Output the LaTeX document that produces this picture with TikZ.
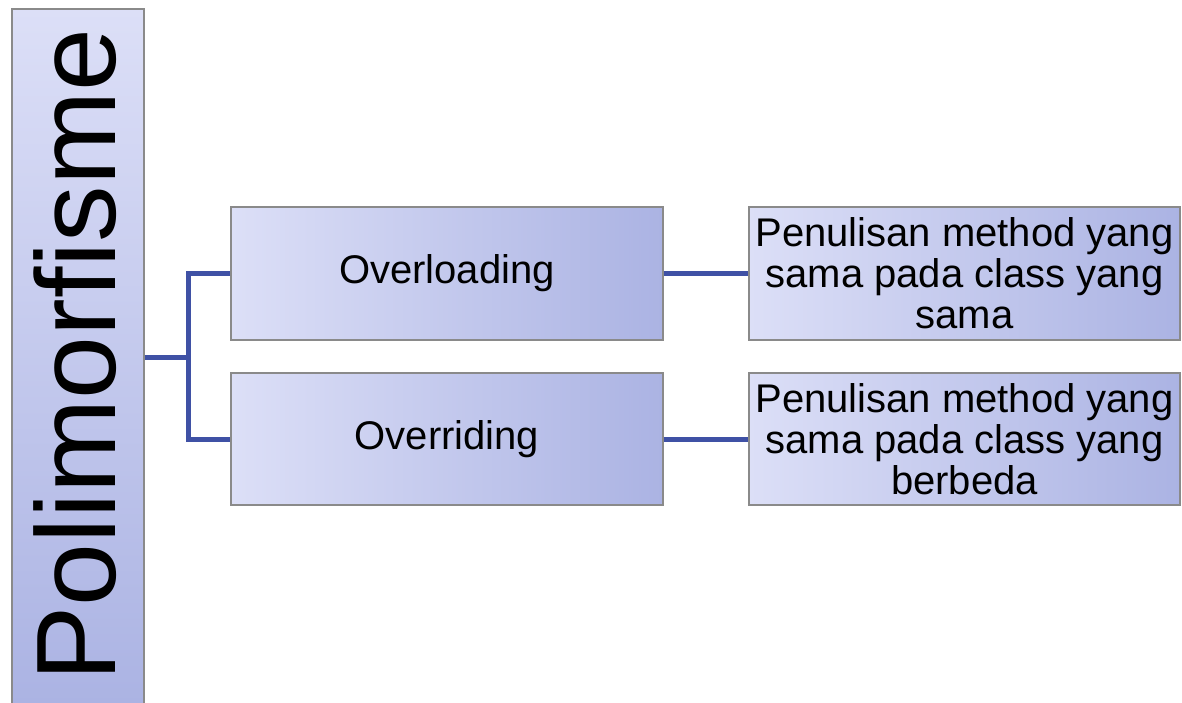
\documentclass[tikz,border=0pt]{standalone}
\usepackage{fontspec}
\setmainfont{Liberation Sans}
\definecolor{boxlight}{HTML}{DCDFF7}
\definecolor{boxdark}{HTML}{ABB3E3}
\definecolor{boxline}{HTML}{8A8A8A}
\definecolor{connblue}{HTML}{3F51A5}
\begin{document}
\begin{tikzpicture}[x=1pt,y=-1pt,
  box/.style={draw=boxline, line width=1.3pt, left color=boxlight, right color=boxdark,
    inner sep=0pt, align=center, font=\fontsize{40}{41}\selectfont},
  tallbox/.style={draw=boxline, line width=1.3pt, top color=boxlight, bottom color=boxdark, inner sep=0pt},
  conn/.style={draw=connblue, line width=5pt}]
\useasboundingbox (0,0) rectangle (1182,702);
\node[tallbox, minimum width=132pt, minimum height=696pt] (poly) at (78,357) {};
\node[anchor=base, rotate=90, inner sep=0pt, font=\fontsize{113}{113}\selectfont] (polytext) at (115,355) {Polimorfisme};
\node[box, minimum width=432pt, minimum height=133pt] (ovl) at (447,273.5) {Overloading};
\node[box, minimum width=432pt, minimum height=132pt] (ovr) at (447,439) {Overriding};
\node[box, minimum width=431pt, minimum height=133pt] (d1) at (964.5,273.5) {Penulisan method yang\\sama pada class yang\\sama};
\node[box, minimum width=431pt, minimum height=132pt] (d2) at (964.5,439) {Penulisan method yang\\sama pada class yang\\berbeda};
\coordinate (j) at (188,357);
\draw[conn] (poly.east |- j) -- (j);
\draw[conn] (ovl.west) -| (j) |- (ovr.west);
\draw[conn] (ovl.east) -- (d1.west);
\draw[conn] (ovr.east) -- (d2.west);
\end{tikzpicture}
\end{document}
